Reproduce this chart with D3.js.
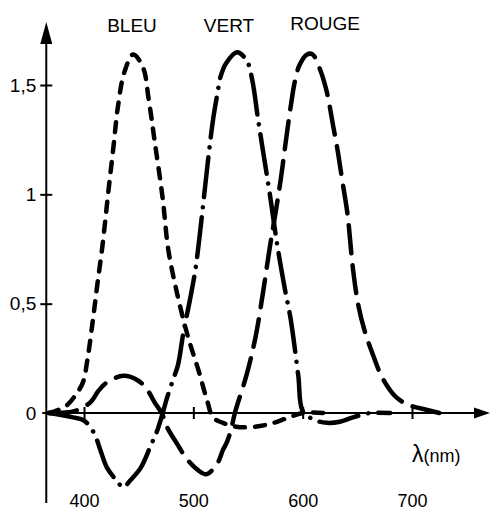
<!DOCTYPE html>
<html>
<head>
<meta charset="utf-8">
<script src="https://cdn.jsdelivr.net/npm/d3@7"></script>
<style>
  body { margin: 0; background: #fff; }
  text { font-family: "Liberation Sans", Arial, sans-serif; fill: #000; }
</style>
</head>
<body>
<div id="chart"></div>
<script>
// wavelengths (nm) and values, one set per curve
var nmBleu = [368, 383, 392, 399, 403, 408, 412, 417, 422, 427, 431, 437, 445, 454, 459, 465, 472, 477, 485, 495, 505, 513, 518, 527, 543, 566, 585, 600, 620];
var valBleu = [0, 0.03, 0.08, 0.14, 0.24, 0.42, 0.58, 0.77, 1.0, 1.22, 1.40, 1.56, 1.64, 1.58, 1.44, 1.23, 0.98, 0.75, 0.55, 0.35, 0.19, 0.05, -0.02, -0.045, -0.065, -0.055, -0.025, 0, 0];

var nmVert = [368, 390, 400, 409, 415, 421, 430, 436, 442, 452, 461, 467, 472, 476, 482, 486, 491, 497, 502, 506, 510, 514, 518, 522, 525, 530, 540, 549, 554, 559, 564, 570, 577, 584, 589, 596, 600, 610, 622, 634, 646, 662, 680];
var valVert = [0, -0.02, -0.035, -0.09, -0.17, -0.25, -0.31, -0.34, -0.31, -0.25, -0.15, -0.08, 0, 0.07, 0.16, 0.22, 0.37, 0.52, 0.66, 0.82, 1.0, 1.18, 1.34, 1.46, 1.54, 1.60, 1.65, 1.61, 1.52, 1.35, 1.19, 1.0, 0.76, 0.56, 0.43, 0.17, 0.01, -0.03, -0.045, -0.04, -0.02, 0, 0];

var nmRouge = [368, 392, 406, 413, 421, 436, 449, 458, 465, 471, 476, 485, 494, 504, 512, 522, 527, 531, 535, 538, 549, 557, 564, 570, 575, 580, 584, 589, 593, 597, 604, 609, 616, 622, 628, 632, 636, 641, 646, 651, 657, 664, 673, 686, 698, 713, 725];
var valRouge = [0, 0.01, 0.05, 0.10, 0.14, 0.17, 0.15, 0.105, 0.045, 0, -0.065, -0.14, -0.21, -0.26, -0.28, -0.23, -0.17, -0.13, -0.065, 0, 0.18, 0.35, 0.56, 0.76, 0.91, 1.07, 1.22, 1.40, 1.52, 1.59, 1.64, 1.64, 1.57, 1.47, 1.31, 1.20, 1.07, 0.91, 0.66, 0.49, 0.37, 0.27, 0.16, 0.07, 0.035, 0.015, 0];

var xTicks = [400, 500, 600, 700];
var yTicks = [0, 0.5, 1, 1.5];
var names = ["BLEU", "VERT", "ROUGE"];

var width = 494, height = 512;

var svg = d3.select("#chart")
  .append("svg")
  .attr("width", width)
  .attr("height", height);

svg.append("rect").attr("width", width).attr("height", height).attr("fill", "#fff");

var x = d3.scaleLinear().domain([400, 700]).range([84, 412]);
var y = d3.scaleLinear().domain([0, 1.5]).range([413, 85]);

var x0 = x(365.5);   // vertical axis
var y0 = y(0);       // horizontal axis

// axis lines with arrow heads
svg.append("line")
  .attr("x1", x0).attr("x2", x0)
  .attr("y1", 503).attr("y2", 36)
  .attr("stroke", "#000").attr("stroke-width", 2);
svg.append("path")
  .attr("d", "M" + x0 + ",22 L" + (x0 - 6) + ",44 L" + (x0 + 6) + ",44 Z")
  .attr("fill", "#000");

svg.append("line")
  .attr("x1", x0 - 4).attr("x2", 478)
  .attr("y1", y0).attr("y2", y0)
  .attr("stroke", "#000").attr("stroke-width", 2);
svg.append("path")
  .attr("d", "M490," + y0 + " L474," + (y0 - 5.5) + " L474," + (y0 + 5.5) + " Z")
  .attr("fill", "#000");

// y ticks: small crosses on the axis
var yAxis = svg.append("g")
  .attr("transform", "translate(" + x0 + ",0)")
  .call(d3.axisLeft(y).tickValues(yTicks).tickSize(6).tickPadding(5)
    .tickFormat(function(d) { return String(d).replace(".", ","); }));
yAxis.select(".domain").remove();
yAxis.selectAll("line").attr("x1", 6).attr("x2", -6).attr("stroke", "#000").attr("stroke-width", 2);
yAxis.selectAll("text").attr("font-size", 19).attr("font-family", null).attr("x", -10);
yAxis.selectAll(".tick").filter(function(d) { return d === 0; }).select("line").remove();

// x ticks, labels far below the axis
var xAxis = svg.append("g")
  .attr("transform", "translate(0," + y0 + ")")
  .call(d3.axisBottom(x).tickValues(xTicks).tickSize(6));
xAxis.select(".domain").remove();
xAxis.selectAll("line").attr("y1", -6).attr("y2", 6).attr("stroke", "#000").attr("stroke-width", 2);
xAxis.selectAll("text").attr("font-size", 18).attr("font-family", null).attr("y", 81);

// curves
var line = d3.line()
  .x(function(d) { return x(d[0]); })
  .y(function(d) { return y(d[1]); })
  .curve(d3.curveCatmullRom.alpha(0.5));

var curves = [
  { nm: nmBleu, val: valBleu, dash: "10,10" },
  { nm: nmVert, val: valVert, dash: "40,10,0.1,10" },
  { nm: nmRouge, val: valRouge, dash: "28,12" }
];

curves.forEach(function(c) {
  svg.append("path")
    .datum(d3.zip(c.nm, c.val))
    .attr("d", line)
    .attr("fill", "none")
    .attr("stroke", "#000")
    .attr("stroke-width", 4.5)
    .attr("stroke-linecap", "round")
    .attr("stroke-dasharray", c.dash);
});

// names above the peaks
var titleX = [132, 229, 325];
var titleY = [32, 32, 30];
svg.selectAll(".title")
  .data(names)
  .enter()
  .append("text")
  .attr("class", "title")
  .attr("x", function(d, i) { return titleX[i]; })
  .attr("y", function(d, i) { return titleY[i]; })
  .attr("text-anchor", "middle")
  .attr("font-size", 19)
  .text(function(d) { return d; });

// unit label
var unit = svg.append("text").attr("x", 412).attr("y", 462);
unit.append("tspan").attr("font-size", 23).text("λ");
unit.append("tspan").attr("font-size", 18).text("(nm)");
</script>
</body>
</html>
